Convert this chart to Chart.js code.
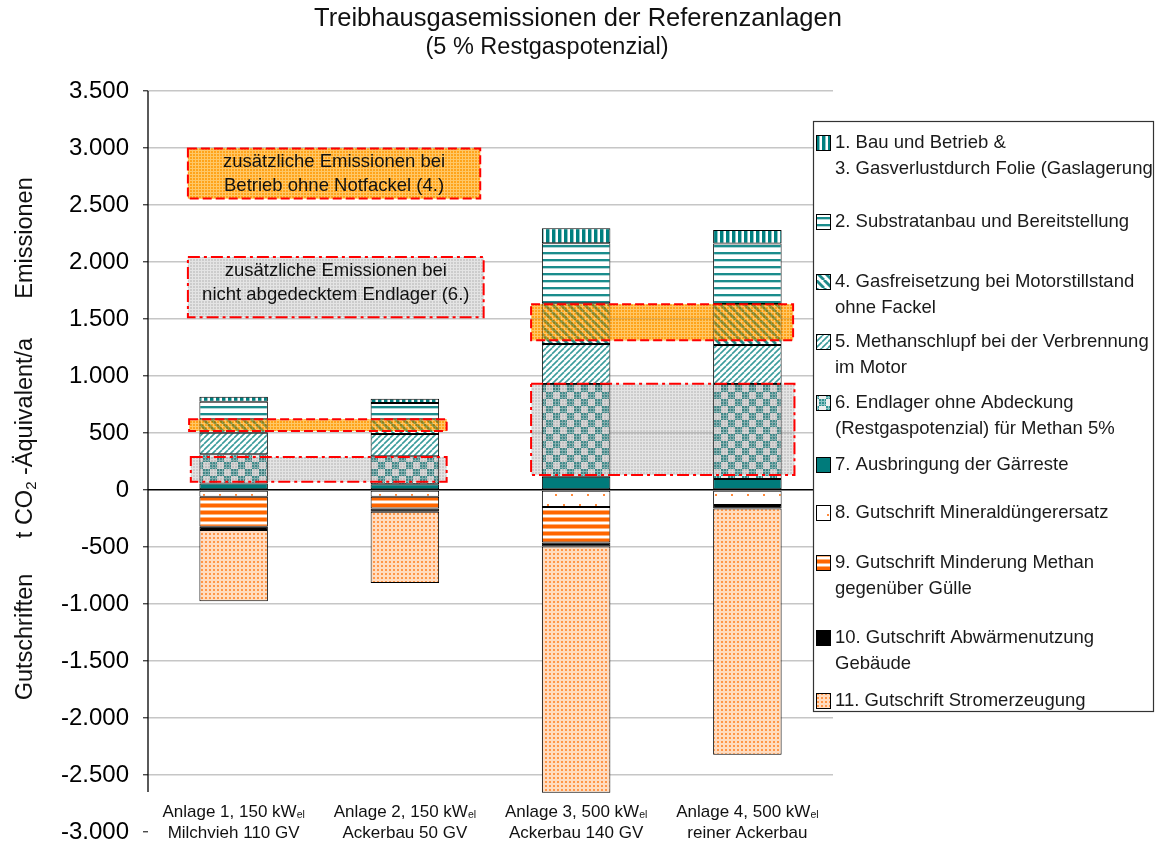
<!DOCTYPE html>
<html><head><meta charset="utf-8">
<script src="https://cdn.jsdelivr.net/npm/chart.js@4.4.1/dist/chart.umd.min.js"></script>
<style>html,body{margin:0;padding:0;background:#fff}#wrap{width:1163px;height:844px;position:relative}</style>
</head><body><div id="wrap"><canvas id="c"></canvas></div>
<script>
// ---------- data ----------
const categories = ['Anlage 1', 'Anlage 2', 'Anlage 3', 'Anlage 4'];
const labelLine1 = ['Anlage 1, 150 kW', 'Anlage 2, 150 kW', 'Anlage 3, 500 kW', 'Anlage 4, 500 kW'];
const labelSub = ['el', 'el', 'el', 'el'];
const labelLine2 = ['Milchvieh 110 GV', 'Ackerbau 50 GV', 'Ackerbau 140 GV', 'reiner Ackerbau'];

const bauBetrieb     = [42, 38, 131, 117];
const substratanbau  = [155, 143, 526, 532];
const gasfreisetzung = [117, 129, 357, 360];
const methanschlupf  = [190, 196, 351, 342];
const endlager       = [257, 245, 813, 833];
const ausbringung    = [56, 50, 117, 96];
const mineralduenger = [-59, -59, -150, -132];
const guelle         = [-263, -103, -310, null];
const abwaerme       = [-29, -29, -35, -30];
const strom          = [-625, -625, -2160, -2160];

const seriesNames = [
  '1. Bau und Betrieb &\n3. Gasverlustdurch Folie (Gaslagerung)',
  '2. Substratanbau und Bereitstellung',
  '4. Gasfreisetzung bei Motorstillstand\nohne Fackel',
  '5. Methanschlupf bei der Verbrennung\nim Motor',
  '6. Endlager ohne Abdeckung\n(Restgaspotenzial) für Methan 5%',
  '7. Ausbringung der Gärreste',
  '8. Gutschrift Mineraldüngerersatz',
  '9. Gutschrift Minderung Methan\ngegenüber Gülle',
  '10. Gutschrift Abwärmenutzung\nGebäude',
  '11. Gutschrift Stromerzeugung'
];

const yMin = -3000, yMax = 3500, yStep = 500, axisLineBottom = -2650;
const titleLines = ['Treibhausgasemissionen der Referenzanlagen', '(5 % Restgaspotenzial)'];
const boxOrangeText = ['zusätzliche Emissionen bei', 'Betrieb ohne Notfackel (4.)'];
const boxGreyText = ['zusätzliche Emissionen bei', 'nicht abgedecktem Endlager (6.)'];

// annotation regions in data units (x: category index, y: value)
const orangeBands = [{x0:-0.26, x1:1.244, y0:517, y1:620}, {x0:1.737, x1:3.267, y0:1313, y1:1629}];
const greyBands   = [{x0:-0.25, x1:1.244, y0:73, y1:290},  {x0:1.737, x1:3.275, y0:132, y1:932}];
const orangeBox = {x0:-0.267, x1:1.44, y0:2556, y1:2996};
const greyBox   = {x0:-0.267, x1:1.46, y0:1515, y1:2043};

// ---------- patterns ----------
const FONT = '"Liberation Sans", Arial, sans-serif';
const canvas = document.getElementById('c');
const ctx = canvas.getContext('2d');
function tile(w, h, fn) { const c = document.createElement('canvas'); c.width = w; c.height = h; const g = c.getContext('2d'); fn(g, w, h); return ctx.createPattern(c, 'repeat'); }
const TEAL = '#008080';
const P = {
  bau: tile(6, 6, (g) => { g.fillStyle = '#fff'; g.fillRect(0,0,6,6); g.fillStyle = TEAL; g.fillRect(0,0,3,6); g.fillStyle = '#8cc6c6'; g.fillRect(3,0,1,6); }),
  substrat: tile(7, 7, (g) => { g.fillStyle = '#fff'; g.fillRect(0,0,7,7); g.fillStyle = '#1a8c8c'; g.fillRect(0,0,7,2); g.fillStyle = '#b0d8d8'; g.fillRect(0,2,7,1); }),
  gasfrei: tile(8, 8, (g) => { g.fillStyle = '#fff'; g.fillRect(0,0,8,8); g.strokeStyle = '#1f8a8a'; g.lineWidth = 2.8; for (const o of [-8,0,8]) { g.beginPath(); g.moveTo(o,0); g.lineTo(o+8,8); g.stroke(); } }),
  methan: tile(6, 6, (g) => { g.fillStyle = '#fff'; g.fillRect(0,0,6,6); g.strokeStyle = '#3b9c9c'; g.lineWidth = 1.6; for (const o of [-6,0,6]) { g.beginPath(); g.moveTo(o,6); g.lineTo(o+6,0); g.stroke(); } }),
  endlager: tile(14, 14, (g) => { g.fillStyle = '#fff'; g.fillRect(0,0,14,14); g.fillStyle = '#2f9090'; g.fillRect(0,0,7,7); g.fillRect(7,7,7,7); g.fillStyle = '#8cc4c4'; for (const [ox,oy] of [[0,0],[7,7]]) { g.fillRect(ox+2,oy,1,7); g.fillRect(ox,oy+2,7,1); g.fillRect(ox+5,oy,1,7); g.fillRect(ox,oy+5,7,1);} g.fillStyle = '#eeeeee'; g.fillRect(7,0,7,7); g.fillRect(0,7,7,7); }),
  ausbringung: '#007b7b',
  mineral: tile(16, 20, (g) => { g.fillStyle = '#fff'; g.fillRect(0,0,16,20); g.fillStyle = '#ff8a3a'; g.fillRect(3,4,2,2); g.fillRect(11,14,2,2); }),
  guelle: tile(4, 7, (g) => { g.fillStyle = '#fff'; g.fillRect(0,0,4,7); g.fillStyle = '#ff6600'; g.fillRect(0,0,4,3); g.fillStyle = '#ffb27a'; g.fillRect(0,3,4,1); g.fillRect(0,6,4,1); }),
  abwaerme: '#000',
  strom: tile(4, 4, (g) => { g.fillStyle = '#ffdcc0'; g.fillRect(0,0,4,4); g.fillStyle = '#ff9648'; g.fillRect(1,1,2,2); }),
  orangeOv: tile(3, 3, (g) => { g.fillStyle = '#ffa31a'; g.fillRect(0,0,3,3); g.fillStyle = '#ffc766'; g.fillRect(0,0,3,1); g.fillRect(0,0,1,3); }),
  greyOv: tile(3, 3, (g) => { g.fillStyle = '#cccccc'; g.fillRect(0,0,3,3); g.fillStyle = '#e4e4e4'; g.fillRect(0,0,3,1); g.fillRect(0,0,1,3); })
};

const legendFills = [P.bau, P.substrat, P.gasfrei, P.methan, P.endlager, P.ausbringung, P.mineral, P.guelle, P.abwaerme, P.strom];
const legendRowY = [143, 222, 282, 342, 403, 465, 513, 563, 638, 701];

function ds(label, data, fill) {
  return { label, data, backgroundColor: fill, borderColor: '#000', borderWidth: 1, borderSkipped: false, barPercentage: 0.8, categoryPercentage: 0.5 };
}
// stacking order: positives from zero upward, negatives from zero downward
const datasets = [
  ds(seriesNames[5], ausbringung, P.ausbringung),
  ds(seriesNames[4], endlager, P.endlager),
  ds(seriesNames[3], methanschlupf, P.methan),
  ds(seriesNames[2], gasfreisetzung, P.gasfrei),
  ds(seriesNames[1], substratanbau, P.substrat),
  ds(seriesNames[0], bauBetrieb, P.bau),
  ds(seriesNames[6], mineralduenger, P.mineral),
  ds(seriesNames[7], guelle, P.guelle),
  ds(seriesNames[8], abwaerme, P.abwaerme),
  ds(seriesNames[9], strom, P.strom)
];

function fmt(v) { const s = Math.abs(v).toString().replace(/\B(?=(\d{3})+(?!\d))/g, '.'); return (v < 0 ? '-' : '') + s; }

const drawPlugin = {
  id: 'drawExtras',
  afterDatasetsDraw(chart) {
    const { ctx, scales: { x, y } } = chart;
    const step = x.getPixelForValue(1) - x.getPixelForValue(0);
    const px = v => x.getPixelForValue(0) + v * step;
    function rect(b, fill, dash, overAlpha) {
      const X0 = px(b.x0), X1 = px(b.x1), Y0 = y.getPixelForValue(b.y1), Y1 = y.getPixelForValue(b.y0);
      ctx.save();
      ctx.globalCompositeOperation = 'multiply';
      ctx.fillStyle = fill; ctx.fillRect(X0, Y0, X1 - X0, Y1 - Y0);
      ctx.globalCompositeOperation = 'source-over';
      ctx.globalAlpha = overAlpha; ctx.fillRect(X0, Y0, X1 - X0, Y1 - Y0);
      ctx.globalAlpha = 1;
      ctx.setLineDash(dash); ctx.strokeStyle = '#ff0000'; ctx.lineWidth = 2;
      ctx.strokeRect(X0, Y0, X1 - X0, Y1 - Y0);
      ctx.restore();
      return { X0, X1, Y0, Y1 };
    }
    const dashO = [9, 4], dashG = [12, 4, 3, 4];
    orangeBands.forEach(b => rect(b, P.orangeOv, dashO, 0.5));
    greyBands.forEach(b => rect(b, P.greyOv, dashG, 0.15));
    const r1 = rect(orangeBox, P.orangeOv, dashO, 1);
    const r2 = rect(greyBox, P.greyOv, dashG, 1);
    ctx.save();
    ctx.fillStyle = '#111'; ctx.font = '18.5px ' + FONT; ctx.textAlign = 'center'; ctx.textBaseline = 'middle';
    [[r1, boxOrangeText], [r2, boxGreyText]].forEach(([r, t]) => {
      const cx = (r.X0 + r.X1) / 2;
      ctx.fillText(t[0], cx, r.Y0 + 13.5);
      ctx.fillText(t[1], cx, r.Y0 + 37.5);
    });
    ctx.restore();
  },
  afterDraw(chart) {
    const { ctx, scales: { x, y }, chartArea } = chart;
    ctx.save();
    // y axis line
    ctx.strokeStyle = '#000'; ctx.lineWidth = 1.3;
    ctx.beginPath(); ctx.moveTo(chartArea.left, y.getPixelForValue(yMax)); ctx.lineTo(chartArea.left, y.getPixelForValue(axisLineBottom)); ctx.stroke();
    // title
    ctx.fillStyle = '#111'; ctx.textAlign = 'center'; ctx.textBaseline = 'middle';
    ctx.font = '25.5px ' + FONT;
    ctx.fillText(titleLines[0], 578, 19);
    ctx.font = '23.5px ' + FONT;
    ctx.fillText(titleLines[1], 547, 48);
    // x labels
    const mainF = '17px ' + FONT, subF = '10.5px ' + FONT;
    categories.forEach((c, i) => {
      const cx = x.getPixelForValue(i);
      ctx.font = mainF; const w1 = ctx.measureText(labelLine1[i]).width;
      ctx.font = subF; const w2 = ctx.measureText(labelSub[i]).width;
      const start = cx - (w1 + w2) / 2;
      ctx.textAlign = 'left'; ctx.textBaseline = 'alphabetic';
      ctx.font = mainF; ctx.fillText(labelLine1[i], start, 817);
      ctx.font = subF; ctx.fillText(labelSub[i], start + w1, 818);
      ctx.textAlign = 'center'; ctx.font = mainF; ctx.fillText(labelLine2[i], cx, 838);
    });
    // rotated axis titles
    function vText(parts, cy) {
      ctx.save(); ctx.translate(32, cy); ctx.rotate(-Math.PI / 2);
      let total = 0;
      parts.forEach(p => { ctx.font = p.f; total += ctx.measureText(p.t).width; });
      let xx = -total / 2;
      ctx.textAlign = 'left'; ctx.textBaseline = 'alphabetic';
      parts.forEach(p => { ctx.font = p.f; ctx.fillText(p.t, xx, p.dy || 0); xx += ctx.measureText(p.t).width; });
      ctx.restore();
    }
    const af = '23.5px ' + FONT, sf = '15px ' + FONT;
    vText([{ t: 'Emissionen', f: af }], 238);
    vText([{ t: 't CO', f: af }, { t: '2', f: sf, dy: 4 }, { t: ' -Äquivalent/a', f: af }], 438);
    vText([{ t: 'Gutschriften', f: af }], 637);
    // legend
    const L = { x: 813, y: 121, w: 340, h: 590 };
    ctx.fillStyle = '#fff'; ctx.fillRect(L.x, L.y, L.w, L.h);
    ctx.strokeStyle = '#333'; ctx.lineWidth = 1.2; ctx.strokeRect(L.x + 0.5, L.y + 0.5, L.w, L.h);
    ctx.save();
    ctx.beginPath(); ctx.rect(L.x, L.y, L.w, L.h); ctx.clip();
    ctx.font = '18.5px ' + FONT; ctx.textAlign = 'left'; ctx.textBaseline = 'middle';
    seriesNames.forEach((name, i) => {
      const cy = legendRowY[i];
      ctx.fillStyle = legendFills[i]; ctx.fillRect(816, cy - 8, 15, 16);
      ctx.strokeStyle = '#000'; ctx.lineWidth = 1; ctx.strokeRect(816.5, cy - 7.5, 14, 15);
      ctx.fillStyle = '#1a1a1a';
      name.split('\n').forEach((ln, k) => ctx.fillText(ln, 835, cy + k * 26));
    });
    ctx.restore();
    ctx.restore();
  }
};

new Chart(ctx, {
  type: 'bar',
  data: { labels: categories, datasets },
  options: {
    responsive: true, maintainAspectRatio: false, animation: false,
    layout: { padding: { top: 91, right: 330, bottom: 12, left: 0 } },
    plugins: { legend: { display: false }, title: { display: false }, tooltip: { enabled: false } },
    scales: {
      x: { stacked: true, display: false },
      y: {
        stacked: true, min: yMin, max: yMax,
        afterFit: s => { s.width = 148; s.paddingTop = 0; s.paddingBottom = 0; },
        ticks: { stepSize: yStep, callback: v => fmt(v), color: '#000', font: { size: 24, family: FONT }, padding: 14 },
        grid: {
          color: c => c.tick.value === 0 ? '#000' : (c.tick.value === yMin ? 'rgba(0,0,0,0)' : '#c6c6c6'),
          lineWidth: c => c.tick.value === 0 ? 1.5 : 1.6,
          tickColor: '#000', tickLength: 5, tickWidth: 1, drawTicks: true
        },
        border: { display: false }
      }
    }
  },
  plugins: [drawPlugin]
});
</script></body></html>
